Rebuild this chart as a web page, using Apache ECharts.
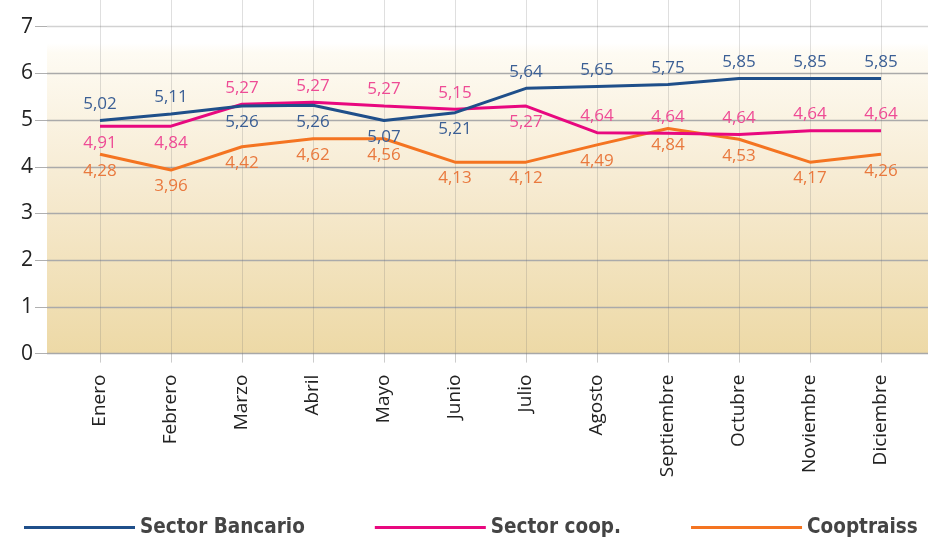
<!DOCTYPE html>
<html><head><meta charset="utf-8">
<script src="https://cdn.jsdelivr.net/npm/echarts@6/dist/echarts.min.js"></script>
<style>html,body{margin:0;padding:0;background:#fff}#c{width:928px;height:537px}</style>
</head><body><div id="c"></div>
<script>
const months = ['Enero','Febrero','Marzo','Abril','Mayo','Junio','Julio','Agosto','Septiembre','Octubre','Noviembre','Diciembre'];
const yTicks = [0,1,2,3,4,5,6,7];
const bancario   = [4.99,5.13,5.30,5.32,4.99,5.16,5.68,5.72,5.76,5.89,5.89,5.89];
const coop       = [4.87,4.87,5.34,5.38,5.30,5.23,5.30,4.73,4.72,4.69,4.77,4.77];
const cooptraiss = [4.27,3.93,4.43,4.60,4.60,4.10,4.10,4.47,4.82,4.59,4.10,4.27];
const bancarioLabels   = [5.02,5.11,5.26,5.26,5.07,5.21,5.64,5.65,5.75,5.85,5.85,5.85];
const coopLabels       = [4.91,4.84,5.27,5.27,5.27,5.15,5.27,4.64,4.64,4.64,4.64,4.64];
const cooptraissLabels = [4.28,3.96,4.42,4.62,4.56,4.13,4.12,4.49,4.84,4.53,4.17,4.26];
const seriesNames = ['Sector Bancario','Sector coop.','Cooptraiss'];

// label placement (layout, not data)
const placeBancario = ['top','top','bottom','bottom','bottom','bottom','top','top','top','top','top','top'];
const placeCoop     = ['bottom','bottom','top','top','top','top','bottom','top','top','top','top','top'];
const placeCoopt    = months.map(()=> 'bottom');

const FONT = '"Open Sans", "Noto Sans", sans-serif';
const fmt = v => v.toFixed(2).replace('.', ',');

function mk(vals, labs, places){
  return vals.map((v,i)=>({
    value: v,
    label: { position: places[i], formatter: fmt(labs[i]) }
  }));
}

const chart = echarts.init(document.getElementById('c'), null, {renderer:'canvas'});
const lineColors = ['#1f4f8a','#e8087f','#f47421'];
const labelColors = ['#3b5f95','#ee4b95','#e9793e'];
const labs = [bancarioLabels, coopLabels, cooptraissLabels];
const vals = [bancario, coop, cooptraiss];
const places = [placeBancario, placeCoop, placeCoopt];

chart.setOption({
  animation: false,
  backgroundColor: '#ffffff',
  grid: [
    { left: 47, right: 0, top: 26.7, bottom: 183.4, show: true, borderWidth: 0,
      backgroundColor: new echarts.graphic.LinearGradient(0,0,0,1,[
        {offset:0, color:'#ffffff'},
        {offset:0.05, color:'#ffffff'},
        {offset:0.08, color:'#fefbf3'},
        {offset:0.5, color:'#f6ead0'},
        {offset:1, color:'#edd9a6'}
      ]) },
    { left: 100, right: 47, top: 0, bottom: 183.4 }
  ],
  xAxis: [
    { gridIndex: 0, type: 'value', show: false, min: 0, max: 1 },
    { gridIndex: 1, type: 'category', data: months, boundaryGap: false,
      axisLine: { show: false },
      axisTick: { show: true, length: 9, lineStyle: { color: 'rgba(110,110,110,0.35)' } },
      splitLine: { show: true, lineStyle: { color: 'rgba(110,110,110,0.22)', width: 1 } },
      axisLabel: { rotate: 90, margin: 21, fontSize: 19, color: '#222', fontFamily: FONT, interval: 0 }
    }
  ],
  yAxis: [
    { gridIndex: 0, type: 'value', min: yTicks[0], max: yTicks[yTicks.length-1], interval: 1,
      axisLine: { show: false },
      axisTick: { show: true, length: 12, lineStyle: { color: '#b0b0b0' } },
      splitLine: { show: true, lineStyle: { color: ['#a8a8a8','#aaaaaa','#aaaaaa','#aaaaaa','#aaaaaa','#aaaaaa','#aaaaaa','#d2d2d2'], width: 1.3 } },
      axisLabel: { margin: 14, fontSize: 21, color: '#222', fontFamily: FONT }
    },
    { gridIndex: 1, type: 'value', min: 0, max: 7.572, show: false, splitLine: { show: false } }
  ],
  legend: {
    left: 19, top: 512, width: 2000, itemWidth: 111, itemHeight: 3, itemGap: 70,
    icon: 'rect', orient: 'horizontal',
    textStyle: { fontSize: 20.5, fontWeight: 'bold', color: '#444', fontFamily: '"Liberation Sans Narrow", "DejaVu Sans Condensed", sans-serif' },
    data: seriesNames
  },
  series: seriesNames.map((n, k) => ({
    name: n, type: 'line', xAxisIndex: 1, yAxisIndex: 1,
    data: mk(vals[k], labs[k], places[k]),
    showSymbol: true, symbol: 'circle', symbolSize: 0,
    lineStyle: { width: 3, color: lineColors[k] },
    itemStyle: { color: lineColors[k] },
    label: { show: true, distance: 8, fontSize: 17, color: labelColors[k], fontFamily: FONT },
    labelLayout: { hideOverlap: false },
    z: 5 - k
  }))
});
</script></body></html>
